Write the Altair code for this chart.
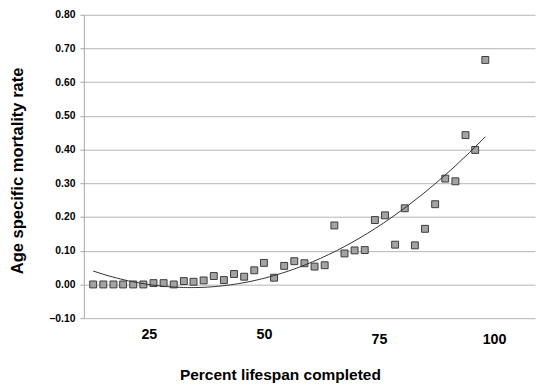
import altair as alt
import pandas as pd

# Percent lifespan completed (x) and age specific mortality rate (y)
pct = [12.9, 15.1, 17.3, 19.4, 21.6, 23.8, 26.0, 28.2, 30.4, 32.6,
       34.7, 36.9, 39.1, 41.3, 43.5, 45.7, 47.9, 50.0, 52.2, 54.4,
       56.6, 58.8, 61.0, 63.2, 65.3, 67.5, 69.7, 71.9, 74.1, 76.3,
       78.5, 80.6, 82.8, 85.0, 87.2, 89.4, 91.6, 93.8, 95.9, 98.1]
rate = [0.000, 0.000, 0.000, 0.000, 0.000, 0.000, 0.004, 0.004, 0.000, 0.010,
        0.008, 0.012, 0.025, 0.013, 0.031, 0.023, 0.042, 0.064, 0.020, 0.055,
        0.069, 0.063, 0.053, 0.057, 0.175, 0.092, 0.101, 0.102, 0.191, 0.205,
        0.118, 0.226, 0.116, 0.165, 0.238, 0.314, 0.306, 0.443, 0.399, 0.666]

x_ticks = [25, 50, 75, 100]
y_ticks = [-0.1, 0.0, 0.1, 0.2, 0.3, 0.4, 0.5, 0.6, 0.7, 0.8]
x_domain = [10.87, 108.9]
y_domain = [-0.1, 0.8]

df = pd.DataFrame({"pct": pct, "rate": rate})

FONT = "Liberation Sans"
GRID = "#b3b3b3"

xs = alt.Scale(domain=x_domain, nice=False, zero=False)
ys = alt.Scale(domain=y_domain, nice=False, zero=False)

x_axis = alt.Axis(
    values=x_ticks, tickCount=len(x_ticks), title="Percent lifespan completed",
    grid=False, domain=False, ticks=False, tickSize=0,
    labelFont=FONT, labelFontSize=14.5, labelFontWeight="bold", labelColor="black",
    labelBaseline="middle", labelFlush=False, labelOverlap=False,
    labelPadding={"condition": {"test": "datum.value >= 75", "value": 22}, "value": 17},
    titleFont=FONT, titleFontSize=15.7, titleFontWeight="bold", titleColor="black",
    titleX=199, titleY=57, titleAlign="center", titleBaseline="middle",
)
y_axis = alt.Axis(
    values=y_ticks, tickCount=len(y_ticks), format=".2f",
    title="Age specific mortality rate",
    grid=True, gridColor=GRID, gridWidth=1,
    domainColor="#a6a6a6", tickColor="#a6a6a6", tickSize=4, labelPadding=5,
    labelFont=FONT, labelFontSize=10.5, labelFontWeight="bold", labelColor="black",
    labelOverlap=False,
    titleFont=FONT, titleFontSize=16.8, titleFontWeight="bold", titleColor="black",
    titleX=-67, titleY=158, titleAngle=270, titleAlign="center", titleBaseline="middle",
)

points = alt.Chart(df).mark_square(
    size=49, color="#a3a3a3", stroke="#3a3a3a", strokeWidth=1, opacity=1
).encode(
    x=alt.X("pct:Q", scale=xs, axis=x_axis),
    y=alt.Y("rate:Q", scale=ys, axis=y_axis),
)

trend = alt.Chart(df).transform_regression(
    "pct", "rate", method="poly", order=2
).mark_line(color="#303030", strokeWidth=1).encode(
    x=alt.X("pct:Q", scale=xs, axis=x_axis),
    y=alt.Y("rate:Q", scale=ys, axis=y_axis),
)

chart = alt.layer(points, trend).properties(
    width=458, height=308,
    autosize=alt.AutoSizeParams(type="none"),
    padding={"left": 77, "top": 4, "right": 1, "bottom": 66},
    background="white",
).configure_view(stroke=None)

chart.save("out.html", embed_options={"renderer": "svg", "actions": False})
